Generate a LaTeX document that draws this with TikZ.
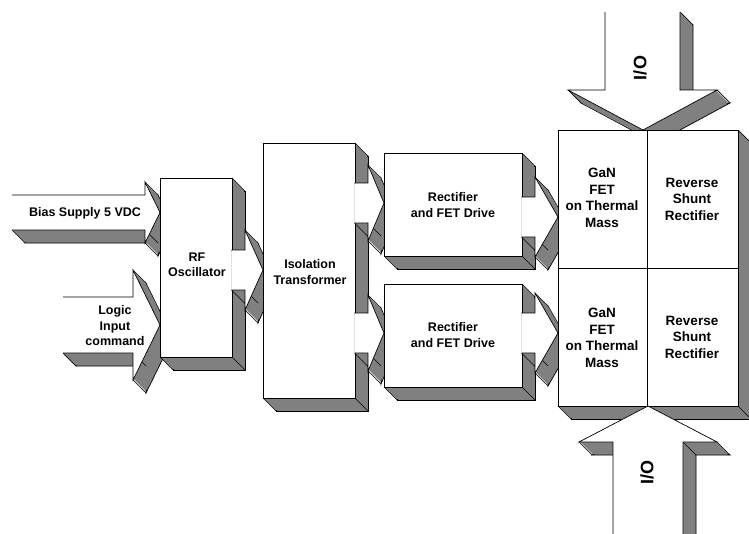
\documentclass[tikz,border=0pt]{standalone}
\usepackage{fontspec}
\setmainfont{Liberation Sans}
\definecolor{shd}{gray}{0.5}
\tikzset{
  edge/.style={draw=black,line width=0.7pt,line join=miter},
  lbl/.style={font=\bfseries\fontsize{12.5}{15.5}\selectfont,align=center,inner sep=0pt},
  biglbl/.style={font=\bfseries\fontsize{13.5}{16.5}\selectfont,align=center,inner sep=0pt},
  iolbl/.style={font=\bfseries\fontsize{18}{20}\selectfont,inner sep=0pt,rotate=90}
}
% #1 = vertex list, #2 = "-- cycle" for closed outline or empty for open outline
\newcommand\blk[2]{%
  \gdef\pp{}%
  \foreach \q [count=\i] in {#1}{%
    \ifnum\i=1 \xdef\pp{\q}\else\xdef\pp{\pp -- \q}\fi}%
  \draw[edge,fill=shd,shift={(13,13)}] \pp -- cycle;
  \foreach \t in {0,1,...,12}{\fill[shd,shift={(\t,\t)}] \pp -- cycle;}
  \foreach \q in {#1}{\draw[edge] \q -- ++(13,13);}
  \fill[white] \pp -- cycle;
  \draw[edge] \pp #2;
}
\begin{document}
\begin{tikzpicture}[x=1pt,y=-1pt]
\useasboundingbox (0,0) rectangle (749,533);
\clip (0,0) rectangle (749,533);
% input arrows
\blk{(12,195),(145,195),(145,182),(160,212.5),(145,243),(145,230),(12,230)}{}
\blk{(63,297),(133,297),(133,270),(160,325),(133,380),(133,353),(63,353)}{}
% RF oscillator
\blk{(160,178),(232,178),(232,357),(160,357)}{-- cycle}
\blk{(231.5,250),(245,250),(245,230),(263,270),(245,310),(245,290),(231.5,290)}{}
% isolation transformer
\blk{(263,143),(355,143),(355,398),(263,398)}{-- cycle}
\blk{(354.5,183),(368,183),(368,165),(384,203),(368,241),(368,223),(354.5,223)}{}
\blk{(354.5,313),(368,313),(368,295),(384,333),(368,371),(368,353),(354.5,353)}{}
% rectifiers
\blk{(384,153),(522,153),(522,256),(384,256)}{-- cycle}
\blk{(384,284),(522,284),(522,387),(384,387)}{-- cycle}
\blk{(521.5,197),(535,197),(535,177),(558,217),(535,257),(535,237),(521.5,237)}{}
\blk{(521.5,313),(535,313),(535,293),(558,333),(535,373),(535,353),(521.5,353)}{}
% top I/O arrow
\blk{(605,12),(605,90),(568,90),(643,130),(717,90),(680,90),(680,12)}{}
% output grid
\blk{(558,130),(738,130),(738,406),(558,406)}{-- cycle}
\draw[edge] (647.5,130) -- (647.5,406);
\draw[edge] (558,268) -- (738,268);
% bottom I/O arrow
\blk{(613,545),(613,442),(579,442),(648,406),(717,442),(683,442),(683,545)}{}
% labels
\node[lbl] (bias) at (85,213) {Bias Supply 5 VDC};
\node[lbl] (logic) at (115,326) {Logic\\Input\\command};
\node[lbl] (rf) at (197,265) {RF\\Oscillator};
\node[lbl] (iso) at (310,272) {Isolation\\Transformer};
\node[lbl] (rect1) at (453,205) {Rectifier\\and FET Drive};
\node[lbl] (rect2) at (453,335) {Rectifier\\and FET Drive};
\node[biglbl] (gan1) at (602,198) {GaN\\FET\\on Thermal\\Mass};
\node[biglbl] (gan2) at (602,338) {GaN\\FET\\on Thermal\\Mass};
\node[biglbl] (rev1) at (692,199) {Reverse\\Shunt\\Rectifier};
\node[biglbl] (rev2) at (692,337) {Reverse\\Shunt\\Rectifier};
\node[iolbl] (io1) at (640,68) {I/O};
\node[iolbl] (io2) at (647,472) {I/O};
\end{tikzpicture}
\end{document}
